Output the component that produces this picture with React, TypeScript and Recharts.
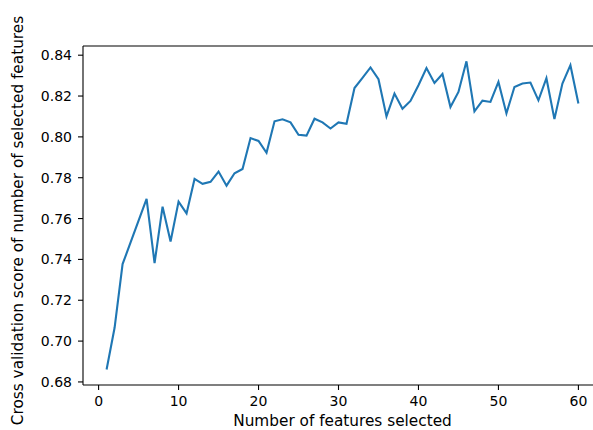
import React from 'react';
import { LineChart, Line, XAxis, YAxis } from 'recharts';

const featureCounts: number[] = [
  1, 2, 3, 4, 5, 6, 7, 8, 9, 10, 11, 12, 13, 14, 15, 16, 17, 18, 19, 20,
  21, 22, 23, 24, 25, 26, 27, 28, 29, 30, 31, 32, 33, 34, 35, 36, 37, 38, 39, 40,
  41, 42, 43, 44, 45, 46, 47, 48, 49, 50, 51, 52, 53, 54, 55, 56, 57, 58, 59, 60,
];

const cvScores: number[] = [
  0.6861, 0.7065, 0.7377, 0.7483, 0.759, 0.7696, 0.7382, 0.7658, 0.7488, 0.7683,
  0.7625, 0.7794, 0.777, 0.778, 0.783, 0.7761, 0.7822, 0.7843, 0.7994, 0.798,
  0.7922, 0.8076, 0.8086, 0.8071, 0.801, 0.8006, 0.8089, 0.8071, 0.8041, 0.8071,
  0.8064, 0.8239, 0.8289, 0.834, 0.8282, 0.81, 0.8212, 0.8138, 0.8176, 0.8253,
  0.8337, 0.8264, 0.8308, 0.8146, 0.822, 0.837, 0.8125, 0.8177, 0.8171, 0.8269,
  0.8115, 0.8244, 0.8261, 0.8266, 0.8179, 0.8287, 0.8087, 0.8261, 0.8351, 0.8163,
];

const xTicks: number[] = [0, 10, 20, 30, 40, 50, 60];
const yTicks: number[] = [0.68, 0.7, 0.72, 0.74, 0.76, 0.78, 0.8, 0.82, 0.84];

const xLabel = 'Number of features selected';
const yLabel = 'Cross validation score of number of selected features';

const data = featureCounts.map((n, i) => ({ n, score: cvScores[i] }));

const FONT = '"DejaVu Sans", sans-serif';
const LABEL_SIZE = 15.3;

const renderYLabel = (props: any) => {
  const vb = props.viewBox || { x: 0, y: 46, width: 83, height: 339 };
  const cx = vb.x + 18;
  const cy = vb.y + vb.height / 2 + 5;
  return (
    <text
      x={cx}
      y={cy}
      transform={`rotate(-90, ${cx}, ${cy})`}
      textAnchor="middle"
      dominantBaseline="central"
      fontFamily={FONT}
      fontSize={LABEL_SIZE}
      fill="#000"
    >
      {yLabel}
    </text>
  );
};

const renderXLabel = (props: any) => {
  const vb = props.viewBox || { x: 83, y: 385, width: 520, height: 45 };
  const cx = vb.x + vb.width / 2;
  const cy = vb.y + 41;
  return (
    <text x={cx} y={cy} textAnchor="middle" fontFamily={FONT} fontSize={LABEL_SIZE} fill="#000">
      {xLabel}
    </text>
  );
};

export default function App() {
  return (
    <div
      style={{
        position: 'absolute',
        left: 0,
        top: 0,
        width: 593,
        height: 430,
        overflow: 'hidden',
        background: '#fff',
      }}
    >
      <LineChart
        width={603}
        height={430}
        data={data}
        margin={{ top: 45, right: 0, bottom: 0, left: 0 }}
      >
        <XAxis
          xAxisId="bottom"
          dataKey="n"
          type="number"
          domain={[-1.95, 62.95]}
          ticks={xTicks}
          allowDataOverflow
          height={45}
          tickSize={5}
          tickMargin={6}
          stroke="#000"
          axisLine={{ stroke: '#000', strokeWidth: 1.1 }}
          tickLine={{ stroke: '#000', strokeWidth: 1.1 }}
          tick={{ fill: '#000', fontSize: 14, fontFamily: FONT }}
          label={renderXLabel}
        />
        <XAxis
          xAxisId="top"
          orientation="top"
          dataKey="n"
          type="number"
          domain={[-1.95, 62.95]}
          allowDataOverflow
          height={1}
          tick={false}
          tickLine={false}
          axisLine={{ stroke: '#000', strokeWidth: 1.1 }}
        />
        <YAxis
          yAxisId="left"
          type="number"
          domain={[0.6785, 0.8445]}
          ticks={yTicks}
          allowDataOverflow
          width={83}
          tickSize={5}
          tickMargin={6}
          interval={0}
          tickFormatter={(v: number) => v.toFixed(2)}
          axisLine={{ stroke: '#000', strokeWidth: 1.1 }}
          tickLine={{ stroke: '#000', strokeWidth: 1.1 }}
          tick={{ fill: '#000', fontSize: 14, fontFamily: FONT }}
          label={renderYLabel}
        />
        <YAxis
          yAxisId="right"
          orientation="right"
          type="number"
          domain={[0.6785, 0.8445]}
          width={1}
          tick={false}
          tickLine={false}
          axisLine={{ stroke: '#000', strokeWidth: 1.1 }}
        />
        <Line
          xAxisId="bottom"
          yAxisId="left"
          type="linear"
          dataKey="score"
          stroke="#1f77b4"
          strokeWidth={2.1}
          dot={false}
          activeDot={false}
          isAnimationActive={false}
        />
      </LineChart>
    </div>
  );
}
